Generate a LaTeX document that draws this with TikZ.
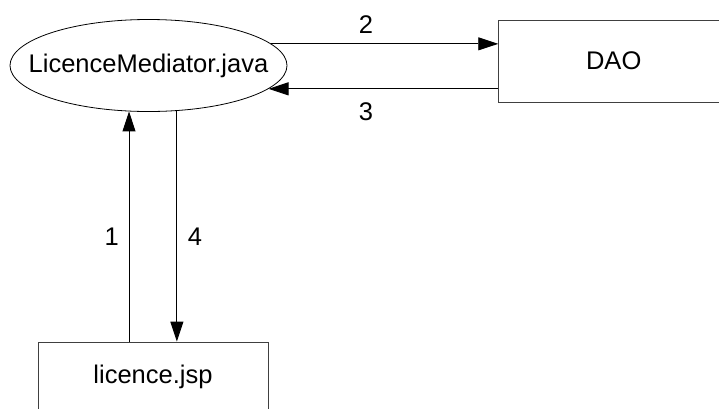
\documentclass[tikz,border=0pt]{standalone}
\usepackage{fontspec}
\setmainfont{Liberation Sans}
\usetikzlibrary{shapes.geometric,arrows.meta}

\tikzset{
  unit/.style={draw=black!75, line width=0.9pt, minimum width=230pt, inner sep=0pt},
  flow/.style={line width=0.9pt, -{Triangle[length=20pt,width=13pt]}},
  lbl/.style={inner sep=0pt, font=\fontsize{25.5}{30}\selectfont}
}

\begin{document}
\begin{tikzpicture}[x=1pt, y=-1pt, font=\fontsize{25.5}{30}\selectfont]
      \clip (0,0) rectangle (719,408);
      % Define nodes
      \node[ellipse, draw, line width=0.8pt, minimum width=277pt, minimum height=92pt, inner sep=0pt]
            (mediator) at (148.5,65.5) {\makebox[0pt]{LicenceMediator.java}};
      \node[unit, minimum height=82pt] (dao) at (613.7,61) {DAO};
      \node[unit, minimum height=70pt] (jsp) at (153,377) {licence.jsp};
      % Connect nodes
      \draw[flow] (mediator.10.6) -- (mediator.10.6 -| dao.west);
      \draw[flow] (mediator.-11.3 -| dao.west) -- (mediator.-11.3);
      \draw[flow] (mediator.247.9 |- jsp.north) -- (mediator.247.9);
      \draw[flow] (mediator.-58.6) -- (mediator.-58.6 |- jsp.north);
      % Step numbers
      \node[lbl] (s2) at (366,25) {2};
      \node[lbl] (s3) at (366,111.7) {3};
      \node[lbl] (s1) at (111.7,236.7) {1};
      \node[lbl] (s4) at (195,237) {4};
    \end{tikzpicture}
\end{document}
